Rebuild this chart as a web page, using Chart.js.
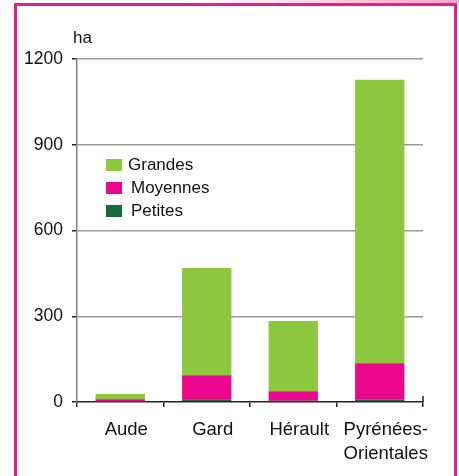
<!DOCTYPE html>
<html>
<head>
<meta charset="utf-8">
<script src="https://cdn.jsdelivr.net/npm/chart.js@4/dist/chart.umd.min.js"></script>
<style>
  html, body { margin: 0; padding: 0; background: #fff; }
  #wrap { position: relative; width: 459px; height: 476px; overflow: hidden; }
  #c { position: absolute; left: 0; top: 0; }
  #frame { position: absolute; left: 14px; top: 3px; width: 437px; height: 500px;
           border: 3px solid #ec1a8d; border-bottom: none; pointer-events: none; }
  #strip { position: absolute; left: 0; top: 0; width: 459px; height: 3px;
           background: linear-gradient(to right, rgba(255,255,255,0) 0%, rgba(255,255,255,0) 40%, #f6a3cf 100%); }
</style>
</head>
<body>
<div id="wrap">
  <canvas id="c" width="459" height="476"></canvas>
  <div id="strip"></div>
  <div id="frame"></div>
</div>
<script>
const categories = ['Aude', 'Gard', 'Hérault', ['Pyrénées-', 'Orientales']];
const petites  = [2, 10, 4, 8];
const moyennes = [8, 84, 34, 128];
const grandes  = [18, 375, 245, 991];
const yTicks = [0, 300, 600, 900, 1200];
const unitLabel = 'ha';

const FONT = '"Liberation Sans", Arial, sans-serif';

const extras = {
  id: 'extras',
  afterDraw(chart) {
    const ctx = chart.ctx;
    const area = chart.chartArea;
    ctx.save();
    ctx.fillStyle = '#111';
    ctx.font = '17px ' + FONT;
    ctx.textAlign = 'left';
    ctx.textBaseline = 'alphabetic';
    ctx.fillText(unitLabel, 73, 43);
    ctx.strokeStyle = '#222';
    ctx.lineWidth = 1.5;
    ctx.beginPath();
    ctx.moveTo(area.right, area.bottom);
    ctx.lineTo(area.right, area.bottom - 6);
    ctx.stroke();
    const ds = chart.data.datasets.slice().reverse();
    const sx = 106, sy = 159, step = 23;
    ctx.font = '17px ' + FONT;
    ctx.textBaseline = 'middle';
    ds.forEach((d, i) => {
      const y = sy + i * step;
      ctx.fillStyle = d.backgroundColor;
      ctx.fillRect(sx, y, 16, 12);
      ctx.fillStyle = '#111';
      ctx.fillText(d.label, sx + (i === 0 ? 22 : 25), y + 6);
    });
    ctx.restore();
  }
};

new Chart(document.getElementById('c'), {
  type: 'bar',
  data: {
    labels: categories,
    datasets: [
      { label: 'Petites',  data: petites,  backgroundColor: '#17693b' },
      { label: 'Moyennes', data: moyennes, backgroundColor: '#ec068d' },
      { label: 'Grandes',  data: grandes,  backgroundColor: '#8dc63f' }
    ]
  },
  options: {
    responsive: false,
    animation: false,
    layout: { padding: { top: 59, right: 36, bottom: 0, left: 0 } },
    plugins: { legend: { display: false }, tooltip: { enabled: false } },
    datasets: { bar: { categoryPercentage: 1, barPercentage: 0.57 } },
    scales: {
      x: {
        stacked: true,
        offset: true,
        grid: { offset: true, drawOnChartArea: false, tickLength: 5, color: '#222', lineWidth: 1.5 },
        border: { color: '#222', width: 1.5 },
        ticks: { color: '#111', font: { family: FONT, size: 18.5, lineHeight: 1.3 }, padding: 11, labelOffset: 6, maxRotation: 0, autoSkip: false },
        afterFit(s) { s.height = 74; }
      },
      y: {
        stacked: true,
        min: 0, max: 1200,
        afterBuildTicks(s) { s.ticks = yTicks.map(v => ({ value: v })); },
        grid: {
          color: ctx => (ctx.tick && ctx.tick.value === 0) ? 'rgba(0,0,0,0)' : '#9a9a9a',
          tickColor: '#222',
          lineWidth: 1.5,
          tickLength: 5
        },
        border: { color: '#808080', width: 1.5 },
        ticks: { color: '#111', font: { family: FONT, size: 17.5 }, padding: 9, callback: v => String(v) },
        afterFit(s) { s.width = 77; }
      }
    }
  },
  plugins: [extras]
});
</script>
</body>
</html>
